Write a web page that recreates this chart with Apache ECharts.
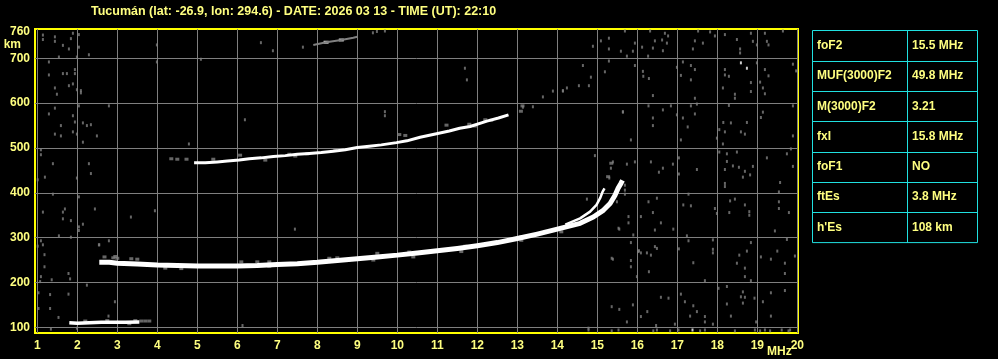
<!DOCTYPE html>
<html>
<head>
<meta charset="utf-8">
<script src="https://cdn.jsdelivr.net/npm/echarts@6/dist/echarts.min.js"></script>
<style>
html,body{margin:0;padding:0;background:#000;}
#chart{width:998px;height:359px;}
</style>
</head>
<body>
<div id="chart"></div>
<script>
// ---------- data ----------
const titleText = 'Tucumán (lat: -26.9, lon: 294.6) - DATE: 2026 03 13 - TIME (UT): 22:10';
const xTickValues = [1,2,3,4,5,6,7,8,9,10,11,12,13,14,15,16,17,18,19,20];
const yTickValues = [100,200,300,400,500,600,700];
const yLabelValues = [100,200,300,400,500,600,700,760];

const paramNames = ['foF2','MUF(3000)F2','M(3000)F2','fxI','foF1','ftEs',"h'Es"];
const paramValues = ['15.5 MHz','49.8 MHz','3.21','15.8 MHz','NO','3.8 MHz','108 km'];

// sporadic E trace (MHz, km)
const esTrace = [[1.8,110],[2.0,109],[2.3,110],[2.6,111],[2.9,111],[3.2,111],[3.55,112]];
const esFringe = [[3.6,114],[3.7,114],[3.8,114],[3.45,115],[2.2,114],[2.75,115],[3.3,108]];

// F trace, ordinary
const fTrace = [[2.55,245],[2.8,245],[3.0,243],[3.5,241],[4.0,239],[4.5,238],[5.0,237],[5.5,237],[6.0,237],[6.5,238],[7.0,240],[7.5,242],[8.0,245],[8.5,249],[9.0,253],[9.5,257],[10.0,261],[10.5,266],[11.0,271],[11.5,276],[12.0,282],[12.5,289],[13.0,298],[13.5,308],[14.0,319],[14.57,332],[14.9,346],[15.15,361],[15.32,376],[15.44,394],[15.52,410],[15.59,421],[15.63,428]];
// F trace, upper branch
const xTrace = [[14.2,329],[14.57,343],[14.82,358],[14.98,373],[15.07,388],[15.13,402],[15.18,410]];
const fFringe = [[2.68,257],[2.9,255],[2.95,258],[3.0,254],[3.35,253],[3.5,252],[4.2,232],[4.6,231],[6.1,246],[6.5,246],[6.8,246],[6.8,236],[8.3,254],[8.5,255],[9.4,250],[9.5,265],[10.3,268],[10.4,257],[11.6,269],[11.7,281],[13.1,302],[13.1,294],[13.7,314],[14.1,313],[15.27,436],[15.35,466]];

// second-hop F trace
const f2Trace = [[4.92,467],[5.2,467],[5.5,469],[5.75,471],[6.05,473],[6.3,476],[6.6,478],[6.9,481],[7.2,483],[7.5,486],[7.8,488],[8.1,490],[8.4,493],[8.7,496],[9.0,501],[9.3,504],[9.6,507],[9.98,512],[10.24,516],[10.57,524],[10.98,532],[11.3,538],[11.56,544],[11.82,548],[12.24,560],[12.53,567],[12.78,574]];
const f2Fringe = [[4.35,476],[4.5,475],[4.73,475],[5.4,475],[6.07,484],[6.7,473],[7.3,486],[7.45,482],[7.75,487],[8.45,495],[10.05,530],[10.2,528],[11.23,551],[11.8,553],[11.94,549],[12.2,563],[12.35,562],[13.09,582],[13.13,594]];

// multi-hop trace near the top
const topTrace = [[7.9,730],[8.22,736],[8.6,741],[8.9,746],[9.0,748]];
const topWhite = [[8.22,736],[8.6,741]];

// scattered noise echoes (MHz, km)
const noise = [
[15.29,745],[15.69,761],[16.32,761],[16.44,739],[16.69,756],[16.77,750],[16.74,734],[16.62,741],[15.94,734],[15.89,716],[15.59,716],[15.29,721],[15.09,739],[14.89,727],[15.74,705],[16.12,725],[16.27,705],[16.39,723],[16.64,717],[17.52,761],[17.44,739],[17.64,734],[17.82,759],[17.94,750],[18.19,753],[18.49,742],[18.57,721],[18.57,712],[18.84,756],[18.89,738],[18.99,730],[19.19,756],[19.24,738],[19.28,730],[19.64,761],[17.39,721],
[14.64,684],[15.19,670],[15.29,694],[14.84,658],[14.54,639],[14.24,634],[14.14,628],[14.79,639],[15.94,684],[16.14,671],[16.15,660],[16.29,655],[16.39,617],[16.99,680],[17.14,692],[17.09,662],[17.34,684],[17.44,675],[17.34,652],[17.44,611],[18.19,675],[18.19,663],[18.29,660],[18.14,634],[18.44,620],[18.44,611],[18.84,646],[18.84,626],[18.99,690],[19.19,675],[19.28,661],[19.07,647],[19.14,634],[19.19,621],[19.89,687],[19.97,672],
[15.64,580],[15.84,518],[16.28,594],[16.39,567],[16.39,550],[16.64,585],[16.84,594],[16.99,574],[17.14,567],[17.26,547],[17.34,594],[17.44,576],[17.09,518],[17.49,598],[17.99,522],[18.05,541],[18.15,557],[18.29,595],[18.34,556],[18.19,536],[18.59,536],[18.69,531],[18.74,557],[18.14,509],[19.09,568],[19.14,580],[19.89,594],[19.89,527],
[14.94,483],[15.34,455],[15.30,433],[15.39,469],[15.74,464],[15.94,469],[16.34,469],[16.54,446],[16.64,455],[16.89,464],[17.04,478],[17.04,442],[17.49,452],[18.05,491],[18.24,487],[18.24,470],[18.39,460],[18.49,491],[18.54,457],[18.69,448],[18.64,435],[18.82,440],[18.89,459],[18.19,452],[19.24,478],[19.74,487],[19.84,498],[19.89,459],
[15.69,417],[15.69,397],[15.49,380],[15.78,347],[15.78,333],[15.55,319],[15.90,306],[16.28,380],[16.49,388],[16.39,356],[16.09,347],[16.59,333],[16.44,317],[16.90,319],[17.28,397],[17.15,373],[17.34,371],[17.94,365],[17.99,354],[18.19,421],[18.19,414],[18.32,382],[18.44,386],[18.30,356],[18.69,373],[18.80,358],[18.80,350],[19.57,423],[19.54,402],[19.54,380],[19.54,365],[19.79,356],[19.44,315],[17.24,304],[17.28,293],[17.89,295],[17.89,274],[17.89,266],[17.04,275],[16.49,276],[16.44,280],[16.34,261],[16.24,266],[16.09,266],[16.04,271],[15.84,289],[15.39,252],[15.84,249],[15.84,235],[16.29,224],[15.99,213],[17.40,244],[17.69,204],[18.84,289],[18.74,270],[18.55,261],[18.49,243],[18.69,232],[18.69,213],[18.84,204],[19.09,257],[19.34,252],[19.50,270],[19.69,243],[19.69,220],[19.94,259],[19.74,296],
[16.59,167],[16.78,165],[17.09,174],[17.19,157],[17.40,148],[17.49,135],[17.32,125],[17.69,124],[17.69,112],[17.89,107],[18.03,187],[18.24,191],[18.64,179],[18.59,168],[18.69,167],[18.64,154],[18.24,152],[18.34,125],[18.93,165],[19.14,157],[19.34,177],[19.69,182],[19.34,125],[18.97,112],[15.36,146],[15.55,140],[15.89,150],[16.09,124],[16.25,135],[15.74,112],[16.47,104],[16.94,107],
[14.78,94],[15.36,92],[15.53,94],[16.40,92],[16.49,94],[16.82,92],[17.03,94],[17.57,92],[17.69,94],[18.44,92],[18.94,94],[19.07,92],[19.19,94],[19.32,92],[19.61,94],[19.78,92],[19.82,94],[14.78,98],
[9.69,581],[9.69,572],[13.64,614],[13.89,627],[14.14,627],[13.39,592],[13.14,591],[15.64,581],[14.74,386],[15.69,406],[15.53,321],[15.36,254],[16.03,269],
[3.99,730],[3.99,692],[5.09,698],[6.59,735],[6.89,717],[7.64,725],[9.39,757],[9.49,760],[9.69,761],[11.69,678],[11.74,652],[6.19,563],[7.44,319],[6.13,104],
[1.14,752],[1.14,742],[1.44,748],[1.44,738],[1.64,729],[1.84,744],[1.89,756],[2.04,753],[2.04,725],[1.79,721],[1.54,703],[2.29,708],[1.99,703],[1.29,692],[1.29,663],[1.64,666],[1.74,666],[1.94,675],[1.94,666],[1.44,634],[1.49,620],[1.79,639],[1.89,643],[1.99,630],[2.09,623],[2.09,628],
[1.44,589],[1.29,576],[1.89,572],[2.04,594],[2.79,594],[1.59,550],[1.94,558],[2.14,556],[2.24,550],[2.34,552],[1.89,536],[1.44,531],[1.59,527],[1.99,531],[2.49,527],[2.14,513],[4.79,509],
[1.09,496],[1.09,485],[1.39,465],[2.29,465],[2.34,443],[1.19,435],[1.99,433],[1.01,429],
[1.39,397],[2.04,391],[1.14,357],[1.64,357],[1.69,364],[1.64,342],[1.84,338],[2.14,330],[2.04,324],[2.04,316],[1.54,304],[1.84,301],[2.44,364],[3.34,346],[3.94,360],
[1.09,293],[1.01,281],[1.14,284],[1.18,262],[2.54,284],[2.79,293],[2.55,284],
[1.18,235],[1.09,213],[1.36,206],[1.07,202],[1.03,177],[1.32,173],[1.78,220],[1.82,208],[1.78,174],[1.32,142],[1.03,142],[1.53,122],[1.34,96],[2.24,194],[2.94,157],[2.78,125],[1.99,98]
];
const whiteNoise = [[18.59,690],[18.74,678],[17.38,94]];

// ---------- chart ----------
const chart = echarts.init(document.getElementById('chart'), null, {renderer:'canvas'});
const labelColor = '#ffff80';
const gridGrey = '#7f7f7f';
const noiseGrey = '#808080';
const lineCyan = '#20e0e0';
const fontFam = '"Liberation Sans", Arial, sans-serif';

function lineSeries(data, width, color){
  return {type:'line', data:data, symbol:'none', smooth:false, silent:true,
    lineStyle:{color:color, width:width, cap:'butt', join:'round'}, z:5};
}
function dotSeries(data, color, size){
  return {type:'scatter', data:data, symbol:'rect', symbolSize:size, silent:true,
    itemStyle:{color:color}, z:3};
}

// table graphic
const tableLeft = 812, tableDiv = 907, tableRight = 977, tableTop = 30.5, rowH = 30.3;
const tableElements = [];
tableElements.push({type:'rect', shape:{x:tableLeft+0.5, y:tableTop, width:tableRight-tableLeft, height:rowH*paramNames.length},
  style:{fill:'none', stroke:lineCyan, lineWidth:1}});
tableElements.push({type:'line', shape:{x1:tableDiv+0.5, y1:tableTop, x2:tableDiv+0.5, y2:tableTop+rowH*paramNames.length},
  style:{stroke:lineCyan, lineWidth:1}});
paramNames.forEach(function(name, i){
  const y0 = tableTop + rowH*i;
  if (i>0) tableElements.push({type:'line', shape:{x1:tableLeft, y1:Math.round(y0)+0.5, x2:tableRight, y2:Math.round(y0)+0.5},
    style:{stroke:lineCyan, lineWidth:1}});
  tableElements.push({type:'text', x:tableLeft+5, y:y0+rowH/2,
    style:{text:name, fill:labelColor, font:'bold 12px ' + fontFam, verticalAlign:'middle', align:'left'}});
  tableElements.push({type:'text', x:tableDiv+5, y:y0+rowH/2,
    style:{text:paramValues[i], fill:labelColor, font:'bold 12px ' + fontFam, verticalAlign:'middle', align:'left'}});
});

const option = {
  backgroundColor:'#000000',
  animation:false,
  title:{text:titleText, left:86, top:0,
    textStyle:{color:labelColor, fontSize:12.5, fontWeight:'bold', fontFamily:fontFam}},
  grid:{left:35, top:29, width:763, height:304, show:true, borderColor:'#ffff00', borderWidth:2, backgroundColor:'#000000'},
  xAxis:{type:'value', min:0.9425, max:20.0175,
    name:'MHz', nameLocation:'end', nameGap:-31, nameMoveOverlap:false,
    nameTextStyle:{color:labelColor, fontSize:12, fontWeight:'bold', fontFamily:fontFam, verticalAlign:'top', align:'left', padding:[13,0,0,0]},
    axisLine:{show:false}, axisTick:{show:false, customValues:xTickValues},
    axisLabel:{customValues:xTickValues, color:labelColor, fontSize:12, fontWeight:'bold', fontFamily:fontFam, margin:7, showMinLabel:true, showMaxLabel:true},
    splitLine:{show:true, lineStyle:{color:gridGrey, width:1}}},
  yAxis:{type:'value', min:87.28, max:765.5,
    name:'km', nameLocation:'end', nameGap:-10, nameMoveOverlap:false,
    nameTextStyle:{color:labelColor, fontSize:12, fontWeight:'bold', fontFamily:fontFam, verticalAlign:'top', align:'right', padding:[0,14,0,0]},
    axisLine:{show:false}, axisTick:{show:false, customValues:yTickValues},
    axisLabel:{customValues:yLabelValues, color:labelColor, fontSize:12, fontWeight:'bold', fontFamily:fontFam, margin:5},
    splitLine:{show:true, lineStyle:{color:gridGrey, width:1}}},
  graphic:{elements:tableElements},
  series:[
    dotSeries(noise, noiseGrey, [2,3]),
    dotSeries(fFringe, noiseGrey, [4,3]),
    dotSeries(f2Fringe, noiseGrey, [4,3]),
    dotSeries(esFringe, noiseGrey, [4,3]),
    lineSeries(topTrace, 2, noiseGrey),
    dotSeries(topWhite, '#ffffff', [5,3]),
    lineSeries(esTrace, 3.5, '#ffffff'),
    lineSeries(fTrace, 5, '#ffffff'),
    lineSeries(xTrace, 2.5, '#ffffff'),
    lineSeries(f2Trace, 3, '#ffffff'),
    dotSeries(whiteNoise, '#ffffff', [2,3])
  ]
};
chart.setOption(option);
</script>
</body>
</html>
